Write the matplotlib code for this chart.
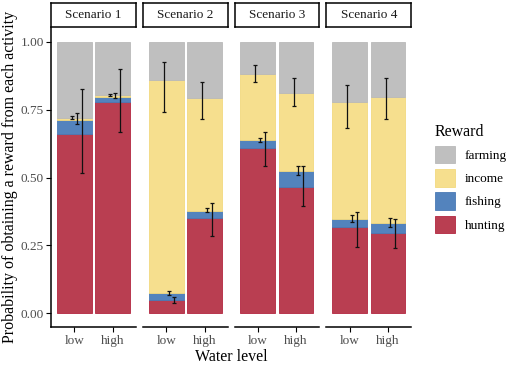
import numpy as np
import matplotlib
matplotlib.use("Agg")
import matplotlib.pyplot as plt
from matplotlib.patches import Patch

plt.rcParams['font.family'] = ['Liberation Serif', 'DejaVu Serif']

scenarios = ['Scenario 1', 'Scenario 2', 'Scenario 3', 'Scenario 4']
levels = ['low', 'high']
activities = ['hunting', 'fishing', 'income', 'farming']

# share of each activity, order: S1 low, S1 high, S2 low, S2 high, ...
hunting = [0.660, 0.779, 0.049, 0.352, 0.607, 0.466, 0.317, 0.297]
fishing = [0.053, 0.019, 0.025, 0.026, 0.030, 0.058, 0.030, 0.037]
income = [0.007, 0.006, 0.784, 0.414, 0.244, 0.288, 0.432, 0.463]
farming = [0.280, 0.196, 0.142, 0.208, 0.119, 0.188, 0.221, 0.203]

# error bars (lower, upper) on the cumulative tops
hunt_lo = [0.518, 0.666, 0.037, 0.283, 0.543, 0.395, 0.245, 0.239]
hunt_hi = [0.825, 0.898, 0.061, 0.406, 0.669, 0.542, 0.372, 0.347]
fish_lo = [0.698, 0.792, 0.067, 0.372, 0.630, 0.509, 0.336, 0.318]
fish_hi = [0.736, 0.812, 0.082, 0.387, 0.647, 0.542, 0.361, 0.351]
inc_lo = [0.716, 0.800, 0.742, 0.714, 0.852, 0.764, 0.683, 0.714]
inc_hi = [0.726, 0.806, 0.926, 0.853, 0.914, 0.865, 0.841, 0.865]

fills = {'hunting': '#B93E51', 'fishing': '#5383BD', 'income': '#F6DF8E', 'farming': '#BFBFBF'}
edges = {'hunting': '#B3263F', 'fishing': '#4A7AB5', 'income': '#F2D97F', 'farming': '#B9B9B9'}
err_off = {'income': -0.0625, 'fishing': 0.0625, 'hunting': 0.1875}

shares = {'hunting': hunting, 'fishing': fishing, 'income': income, 'farming': farming}
errs = {'hunting': (hunt_lo, hunt_hi), 'fishing': (fish_lo, fish_hi), 'income': (inc_lo, inc_hi)}

W, H = 510, 365
fig = plt.figure(figsize=(W / 100, H / 100), dpi=100)

panel_left = [51.3, 143.3, 234.6, 326.5]
pw = 84.5
ptop, pbot = 28.1, 326.9
lw_axis = 1.1

x = np.arange(1, 3)
for i, sc in enumerate(scenarios):
    ax = fig.add_axes([panel_left[i] / W, 1 - pbot / H, pw / W, (pbot - ptop) / H])
    bottom = np.zeros(2)
    for act in activities:
        vals = np.array(shares[act][2 * i:2 * i + 2])
        ax.bar(x, vals, width=0.9, bottom=bottom, color=fills[act],
               edgecolor=edges[act], linewidth=0.6)
        bottom = bottom + vals
        if act in errs:
            lo = np.array(errs[act][0][2 * i:2 * i + 2])
            hi = np.array(errs[act][1][2 * i:2 * i + 2])
            mid = (lo + hi) / 2
            ax.errorbar(x + err_off[act], mid, yerr=(hi - lo) / 2, fmt='none',
                        ecolor='#111111', elinewidth=0.9, capsize=1.6, capthick=0.9)
    ax.set_xlim(0.4, 2.6)
    ax.set_ylim(-0.05, 1.05)
    ax.set_xticks(x)
    ax.set_xticklabels(levels, fontsize=9.5, color='#4D4D4D')
    for s in ['top', 'right']:
        ax.spines[s].set_visible(False)
    ax.spines['bottom'].set_linewidth(lw_axis)
    ax.tick_params(axis='x', length=3.5, width=0.8, pad=2)
    if i == 0:
        ax.spines['left'].set_linewidth(lw_axis)
        ax.set_yticks([0, 0.25, 0.5, 0.75, 1.0])
        ax.set_yticklabels(['0.00', '0.25', '0.50', '0.75', '1.00'], fontsize=9.5, color='#4D4D4D')
        ax.tick_params(axis='y', length=3.5, width=0.8, pad=2)
    else:
        ax.spines['left'].set_visible(False)
        ax.set_yticks([])

    sax = fig.add_axes([panel_left[i] / W, 1 - 27.3 / H, pw / W, 24 / H])
    sax.set_xticks([])
    sax.set_yticks([])
    for s in sax.spines.values():
        s.set_linewidth(lw_axis)
    sax.text(0.5, 0.5, sc, ha='center', va='center', fontsize=9.5, color='#1A1A1A')

fig.text(10 / W, 1 - 177 / H, 'Probability of obtaining a reward from each activity',
         rotation=90, ha='center', va='center', fontsize=11.5)
fig.text(231 / W, 1 - 357 / H, 'Water level', ha='center', va='center', fontsize=11.5)

handles = [Patch(facecolor=fills[a], edgecolor=edges[a], linewidth=0.6, label=a)
           for a in ['farming', 'income', 'fishing', 'hunting']]
leg = fig.legend(handles=handles, title='Reward', loc='upper left',
                 bbox_to_anchor=(423 / W, 1 - 112 / H), frameon=False,
                 fontsize=9.5, title_fontsize=11.5, handlelength=1.55,
                 handleheight=1.65, labelspacing=0.45, handletextpad=0.7,
                 alignment='left')

fig.savefig('out.png', dpi=100)
